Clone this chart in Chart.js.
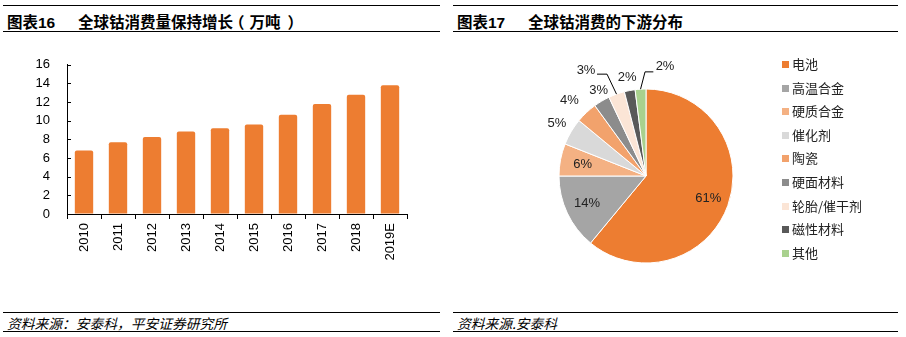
<!DOCTYPE html>
<html lang="zh">
<head>
<meta charset="utf-8">
<title>全球钴消费</title>
<script src="https://cdn.jsdelivr.net/npm/chart.js@4.4.1/dist/chart.umd.min.js"></script>
<style>
  html, body { margin: 0; padding: 0; background: #fff; }
  body { width: 906px; height: 337px; position: relative; overflow: hidden;
         font-family: "Liberation Sans", Arial, "Noto Sans CJK SC", sans-serif; color: #000; }
  .rule { position: absolute; height: 0; border-top: 1.5px solid #000; }
  .title { position: absolute; top: 10px; font: bold 15.5px "Noto Sans CJK SC", sans-serif; white-space: nowrap; }
  .title .no { display: inline-block; width: 71px; font-family: "Liberation Sans", Arial, "Noto Sans CJK SC", sans-serif; }
  .title .po { margin: 0 5px 0 -4px; }
  .title .pc { margin: 0 0 0 7px; }
  .src { position: absolute; top: 313px; font: italic 13.75px "Noto Sans CJK SC", sans-serif; white-space: nowrap; }
  canvas { position: absolute; }
  #legend { position: absolute; left: 782px; top: 55px; margin: 0; padding: 0; list-style: none;
            font: 13px "Noto Sans CJK SC", sans-serif; color: #222; }
  #legend li { height: 23.6px; line-height: 18px; white-space: nowrap; }
  #legend i { display: inline-block; width: 7px; height: 7px; margin-right: 3px; vertical-align: 1px; }
</style>
</head>
<body>
  <!-- left panel -->
  <div class="rule" style="left:3px; width:437px; top:5px"></div>
  <div class="title" style="left:7px"><span class="no">图表16</span>全球钴消费量保持增长<span class="po">（</span>万吨<span class="pc">）</span></div>
  <div class="rule" style="left:3px; width:437px; top:31px"></div>
  <canvas id="barChart" width="440" height="260" style="left:0; top:40px; width:440px; height:260px"></canvas>
  <div class="rule" style="left:3px; width:437px; top:312px"></div>
  <div class="src" style="left:7px">资料来源：安泰科，平安证券研究所</div>
  <div class="rule" style="left:3px; width:437px; top:331px"></div>

  <!-- right panel -->
  <div class="rule" style="left:453px; width:445px; top:5px"></div>
  <div class="title" style="left:457px"><span class="no">图表17</span>全球钴消费的下游分布</div>
  <div class="rule" style="left:453px; width:445px; top:31px"></div>
  <canvas id="pieChart" width="445" height="260" style="left:453px; top:40px; width:445px; height:260px"></canvas>
  <ul id="legend"></ul>
  <div class="rule" style="left:453px; width:445px; top:312px"></div>
  <div class="src" style="left:457px">资料来源.安泰科</div>
  <div class="rule" style="left:453px; width:445px; top:331px"></div>

<script>
// ===== Data =====
const years = ['2010', '2011', '2012', '2013', '2014', '2015', '2016', '2017', '2018', '2019E'];
const consumption = [6.8, 7.7, 8.25, 8.85, 9.2, 9.6, 10.65, 11.8, 12.8, 13.8]; // 万吨
const yMin = 0, yMax = 16, yStep = 2;

const uses = ['电池', '高温合金', '硬质合金', '催化剂', '陶瓷', '硬面材料', '轮胎/催干剂', '磁性材料', '其他'];
const shares = [61, 14, 6, 5, 4, 3, 3, 2, 2]; // %
const useColors = ['#ED7D31', '#A5A5A5', '#F4B183', '#D9D9D9', '#F2A26C', '#8C8C8C', '#FBE5D6', '#595959', '#A9D18E'];

const NUM_FONT = '"Liberation Sans", Arial, sans-serif';

// ===== Bar chart: inward y ticks =====
const innerTicks = {
  id: 'innerTicks',
  afterDraw(chart) {
    const y = chart.scales.y, ctx = chart.ctx;
    ctx.save();
    ctx.strokeStyle = '#000';
    ctx.lineWidth = 1;
    y.ticks.forEach((t, i) => {
      const py = Math.round(y.getPixelForTick(i)) + 0.5;
      ctx.beginPath();
      ctx.moveTo(y.right, py);
      ctx.lineTo(y.right + 4, py);
      ctx.stroke();
    });
    ctx.restore();
  }
};

new Chart(document.getElementById('barChart'), {
  type: 'bar',
  data: {
    labels: years,
    datasets: [{
      data: consumption,
      backgroundColor: '#ED7D31',
      borderRadius: { topLeft: 2, topRight: 2 },
      barPercentage: 0.54,
      categoryPercentage: 1
    }]
  },
  options: {
    responsive: false,
    animation: false,
    layout: { padding: { left: 0, top: 21, right: 33, bottom: 0 } },
    plugins: { legend: { display: false }, tooltip: { enabled: false } },
    scales: {
      x: {
        grid: { offset: true, drawOnChartArea: false, tickLength: 5, color: '#000' },
        border: { color: '#000', width: 1 },
        ticks: { color: '#000', font: { family: NUM_FONT, size: 13 }, minRotation: 90, maxRotation: 90, padding: 4, autoSkip: false },
        afterFit: s => { s.height = 86; }
      },
      y: {
        min: yMin, max: yMax,
        grid: { drawOnChartArea: false, drawTicks: false },
        border: { color: '#000', width: 1 },
        ticks: { stepSize: yStep, color: '#000', font: { family: NUM_FONT, size: 13 }, padding: 17 },
        afterFit: s => { s.width = 67; }
      }
    }
  },
  plugins: [innerTicks]
});

// ===== Pie chart: percent labels with leaders =====
const pieLabels = {
  id: 'pieLabels',
  afterDatasetsDraw(chart, args, opts) {
    const ctx = chart.ctx;
    const meta = chart.getDatasetMeta(0);
    const values = chart.data.datasets[0].data;
    ctx.save();
    ctx.font = '13px ' + NUM_FONT;
    ctx.fillStyle = '#222';
    ctx.textAlign = 'center';
    ctx.textBaseline = 'middle';
    meta.data.forEach((arc, i) => {
      const p = opts.place[i];
      const mid = (arc.startAngle + arc.endAngle) / 2 + (p.turn || 0) * Math.PI / 180;
      const r = arc.outerRadius;
      const text = values[i] + '%';
      if (p.leader) {
        const ex = arc.x + Math.cos(mid) * r, ey = arc.y + Math.sin(mid) * r;
        const L = p.leader;
        ctx.strokeStyle = '#000';
        ctx.lineWidth = 1;
        ctx.beginPath();
        ctx.moveTo(ex, ey);
        ctx.lineTo(ex + L.elbow[0], ey + L.elbow[1]);
        ctx.lineTo(ex + L.end[0], ey + L.end[1]);
        ctx.stroke();
        ctx.fillText(text, ex + L.text[0], ey + L.text[1]);
      } else {
        ctx.fillText(text, arc.x + Math.cos(mid) * r * p.k, arc.y + Math.sin(mid) * r * p.k);
      }
    });
    ctx.restore();
  }
};

const pie = new Chart(document.getElementById('pieChart'), {
  type: 'pie',
  data: {
    labels: uses,
    datasets: [{ data: shares, backgroundColor: useColors, borderColor: '#fff', borderWidth: 1 }]
  },
  options: {
    responsive: false,
    animation: false,
    layout: { padding: { left: 105.5, top: 48.5, right: 164.5, bottom: 36.5 } },
    plugins: {
      legend: { display: false },
      tooltip: { enabled: false },
      pieLabels: {
        place: [
          { k: 0.76 },
          { k: 0.75 },
          { k: 0.74 },
          { k: 1.19 },
          { k: 1.24, turn: -2 },
          { k: 1.12, turn: 1.6 },
          { leader: { elbow: [-9.5, -20], end: [-19.5, -20], text: [-30.5, -24] } },
          { k: 1.15 },
          { leader: { elbow: [4.5, -17.3], end: [12.8, -17.3], text: [24.5, -23] } }
        ]
      }
    }
  },
  plugins: [pieLabels]
});

// ===== HTML legend from the chart data =====
const legend = document.getElementById('legend');
pie.data.labels.forEach((name, i) => {
  const li = document.createElement('li');
  const sw = document.createElement('i');
  sw.style.background = pie.data.datasets[0].backgroundColor[i];
  li.appendChild(sw);
  li.appendChild(document.createTextNode(name));
  legend.appendChild(li);
});
</script>
</body>
</html>
